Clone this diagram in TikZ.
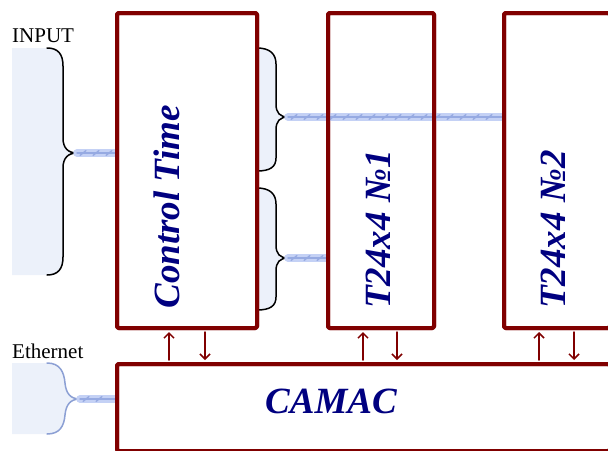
\documentclass[tikz,border=0pt]{standalone}
\usepackage{fontspec}
\setmainfont{Liberation Serif}
\usetikzlibrary{arrows.meta,decorations.markings}
\definecolor{boxred}{RGB}{128,0,0}
\definecolor{labelblue}{RGB}{0,0,128}
\definecolor{cablebg}{RGB}{196,209,245}
\definecolor{cablefg}{RGB}{150,170,226}
\definecolor{padfill}{RGB}{236,241,250}
\definecolor{ethline}{RGB}{140,160,212}
\tikzset{
  unit/.style={rectangle, draw=boxred, line width=4pt, rounded corners=1.5pt, inner sep=0pt},
  lbl/.style={text=labelblue, font=\fontsize{37}{40}\selectfont\bfseries\itshape, inner sep=0pt},
  side/.style={font=\fontsize{21}{24}\selectfont, inner sep=0pt, anchor=base west},
  link/.style={draw=boxred, line width=1.5pt, -{Straight Barb[length=5pt,width=10pt]}, shorten >=2pt, shorten <=2pt},
  curly/.style={draw=black, line width=1.5pt},
  cable/.style={draw=cablebg, line width=7.5pt, line cap=round,
    postaction={draw=cablefg, line width=1.4pt},
    postaction={decorate, decoration={markings,
      mark=between positions 6pt and -4pt step 13pt with {\draw[cablefg, line width=1.3pt] (-3pt,-2.5pt) -- (3pt,2.5pt);}}}},
  every picture/.style={line cap=round, line join=round}
}

\begin{document}
\begin{tikzpicture}[x=1pt, y=-1pt]
  \useasboundingbox (0,0) rectangle (608,450);
  \clip (0,0) rectangle (608,450);

  % input pad and braces
  \fill[padfill] (12,48) -- (47,48) .. controls (58,48) and (63,54) .. (63,66) -- (63,138)
    .. controls (63,148) and (68,153) .. (77,153) .. controls (68,153) and (63,158) .. (63,168)
    -- (63,257) .. controls (63,269) and (58,275) .. (47,275) -- (12,275) -- cycle;
  \draw[curly] (47,48) .. controls (58,48) and (63,54) .. (63,66) -- (63,138)
    .. controls (63,148) and (68,153) .. (77,153) .. controls (68,153) and (63,158) .. (63,168)
    -- (63,257) .. controls (63,269) and (58,275) .. (47,275);
  \coordinate (intip) at (77,153);

  \fill[padfill] (257,48) .. controls (270,48) and (276,54) .. (276,64) -- (276,104)
    .. controls (276,113) and (280,117) .. (288,117) .. controls (280,117) and (276,121) .. (276,130)
    -- (276,158) .. controls (276,167) and (270,171) .. (257,171) -- cycle;
  \draw[curly] (257,48) .. controls (270,48) and (276,54) .. (276,64) -- (276,104)
    .. controls (276,113) and (280,117) .. (288,117) .. controls (280,117) and (276,121) .. (276,130)
    -- (276,158) .. controls (276,167) and (270,171) .. (257,171);
  \coordinate (uptip) at (288,117);

  \fill[padfill] (257,188) .. controls (270,188) and (276,194) .. (276,204) -- (276,245)
    .. controls (276,254) and (280,258) .. (288,258) .. controls (280,258) and (276,262) .. (276,271)
    -- (276,297) .. controls (276,306) and (270,310) .. (257,310) -- cycle;
  \draw[curly] (257,188) .. controls (270,188) and (276,194) .. (276,204) -- (276,245)
    .. controls (276,254) and (280,258) .. (288,258) .. controls (280,258) and (276,262) .. (276,271)
    -- (276,297) .. controls (276,306) and (270,310) .. (257,310);
  \coordinate (lowtip) at (288,258);

  % ethernet pad
  \fill[padfill] (12,363) -- (47,363) .. controls (60,363) and (64,372) .. (65,383)
    .. controls (66,393) and (70,399) .. (80,399) .. controls (70,399) and (66,405) .. (65,415)
    .. controls (64,426) and (60,434) .. (47,434) -- (12,434) -- cycle;
  \draw[curly, draw=ethline] (47,363) .. controls (60,363) and (64,372) .. (65,383)
    .. controls (66,393) and (70,399) .. (80,399) .. controls (70,399) and (66,405) .. (65,415)
    .. controls (64,426) and (60,434) .. (47,434);
  \coordinate (ethtip) at (80,399);

  % boxes
  \node[unit, minimum width=140pt, minimum height=315pt] (ctrl) at (187,170.5) {};
  \node[unit, minimum width=106pt, minimum height=315pt] (t1) at (381,170.5) {};
  \node[unit, minimum width=106pt, minimum height=315pt] (t2) at (557,170.5) {};
  \node[unit, minimum width=493pt, minimum height=87pt] (camac) at (363.5,407.5) {};

  % cables
  \draw[cable] (intip) -- (ctrl.west |- intip);
  \draw[cable] (uptip) -- (t2.west |- uptip);
  \draw[cable] (lowtip) -- (t1.west |- lowtip);
  \draw[cable] (ethtip) -- (camac.west |- ethtip);

  % redraw borders over cables
  \node[unit, minimum width=140pt, minimum height=315pt] at (ctrl) {};
  \node[unit, minimum width=106pt, minimum height=315pt] at (t1) {};
  \node[unit, minimum width=106pt, minimum height=315pt] at (t2) {};
  \node[unit, minimum width=493pt, minimum height=87pt] at (camac) {};

  % labels
  \node[lbl, rotate=90] (ctrllbl) at (167,207) {Control Time};
  \node[lbl, rotate=90] (t1lbl) at (378.5,229.5) {T24x4 №1};
  \node[lbl, rotate=90] (t2lbl) at (553.5,229.5) {T24x4 №2};
  \node[lbl] (camaclbl) at (331,401) {CAMAC};

  \node[side] (inputtxt) at (12,42) {INPUT};
  \node[side] (ethtxt) at (12,358) {Ethernet};

  % bus arrows
  \coordinate (c1) at (169,0);
  \coordinate (c2) at (205,0);
  \coordinate (c3) at (363,0);
  \coordinate (c4) at (397,0);
  \coordinate (c5) at (539,0);
  \coordinate (c6) at (574,0);
  \draw[link] (camac.north -| c1) -- (ctrl.south -| c1);
  \draw[link] (ctrl.south -| c2) -- (camac.north -| c2);
  \draw[link] (camac.north -| c3) -- (t1.south -| c3);
  \draw[link] (t1.south -| c4) -- (camac.north -| c4);
  \draw[link] (camac.north -| c5) -- (t2.south -| c5);
  \draw[link] (t2.south -| c6) -- (camac.north -| c6);
\end{tikzpicture}
\end{document}
